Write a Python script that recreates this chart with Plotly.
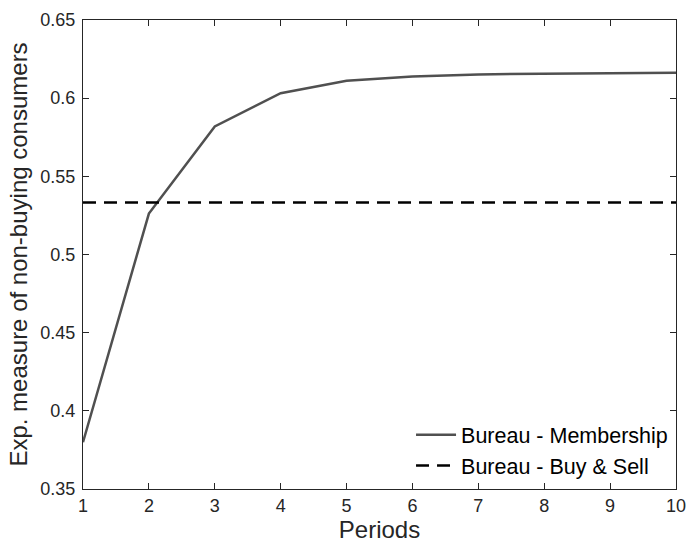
import plotly.graph_objects as go

periods = [1, 2, 3, 4, 5, 6, 7, 8, 9, 10]
membership = [0.3799, 0.5262, 0.5819, 0.6032, 0.6112, 0.6139, 0.6152, 0.6158, 0.6160, 0.6162]
buy_sell = [0.5333] * len(periods)

x_ticks = [1, 2, 3, 4, 5, 6, 7, 8, 9, 10]
y_ticks = [0.35, 0.4, 0.45, 0.5, 0.55, 0.6, 0.65]
y_ticklabels = ["0.35", "0.4", "0.45", "0.5", "0.55", "0.6", "0.65"]

axis_color = "#262626"
font_family = "Liberation Sans, Arial, Helvetica, sans-serif"

fig = go.Figure()
fig.add_trace(go.Scatter(
    x=periods, y=membership, mode="lines", name="Bureau - Membership",
    line=dict(color="#505050", width=2.5),
))
fig.add_trace(go.Scatter(
    x=periods, y=buy_sell, mode="lines", name="Bureau - Buy & Sell",
    line=dict(color="#000000", width=2.5, dash="13px,8px"),
))

axis_common = dict(
    showline=True, linecolor=axis_color, linewidth=1, mirror="ticks",
    ticks="inside", ticklen=6, tickcolor=axis_color, tickwidth=1,
    showgrid=False, zeroline=False,
    tickfont=dict(size=18, color=axis_color, family=font_family),
)

fig.update_layout(
    width=696, height=544,
    margin=dict(l=83, r=10, t=16, b=52),
    paper_bgcolor="white", plot_bgcolor="white",
    font=dict(family=font_family, color=axis_color),
    xaxis=dict(
        range=[1, 10], tickvals=x_ticks,
        title=dict(text="Periods", font=dict(size=24, color=axis_color), standoff=2),
        **axis_common,
    ),
    yaxis=dict(
        range=[0.35, 0.65], tickvals=y_ticks, ticktext=y_ticklabels,
        ticklabelstandoff=3,
        title=dict(text="Exp. measure of non-buying consumers", font=dict(size=24, color=axis_color), standoff=5),
        **axis_common,
    ),
    legend=dict(
        x=0.995, y=0.006, xanchor="right", yanchor="bottom",
        bgcolor="rgba(255,255,255,0)", borderwidth=0,
        font=dict(size=21.5, color="#000000", family=font_family),
        tracegroupgap=0, itemwidth=40,
    ),
    showlegend=True,
)

fig.write_html("out.html")
